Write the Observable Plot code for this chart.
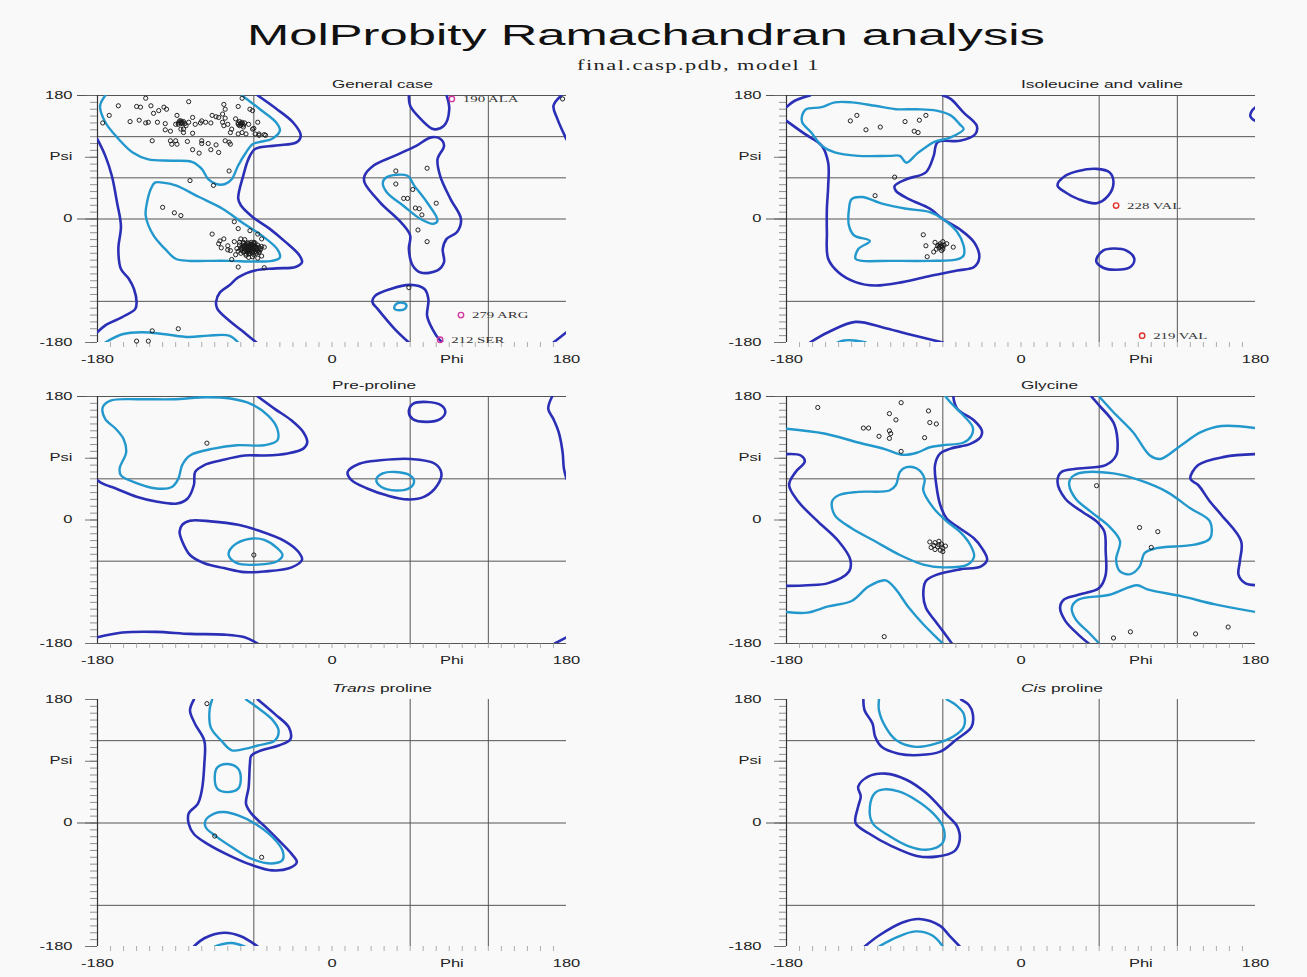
<!DOCTYPE html>
<html><head><meta charset="utf-8">
<script src="https://cdn.jsdelivr.net/npm/d3@7"></script>
<script src="https://cdn.jsdelivr.net/npm/@observablehq/plot@0.6"></script>
<style>
body{margin:0;background:#f9f9f9;}
#root{position:relative;width:1307px;height:977px;overflow:hidden;background:#f9f9f9;font-family:"Liberation Sans",Arial,sans-serif;}
.lab{position:absolute;white-space:nowrap;transform-origin:0 0;color:#151515;}
</style></head><body><div id="root"></div><script>
// ---------- text ----------
const mainTitle = "MolProbity Ramachandran analysis";
const subTitle = "final.casp.pdb, model 1";
const panelTitles = ["General case", "Isoleucine and valine", "Pre-proline", "Glycine", "<i>Trans</i> proline", "<i>Cis</i> proline"];
const yTickValues = [180, 90, 0, -180];
const yTickLabels = ["180", "Psi", "0", "-180"];
const xTickValues = [-180, 0, 92, 180];
const xTickLabels = ["-180", "0", "Phi", "180"];
const vGrid = [-60, 60, 120];
const hGridTop = [180, 120, 60, 0, -120];
const hGridMid = [180, 60, -60, -180];
const hGridBot = [120, 0, -120];

// ---------- General case ----------
const generalDark = [
 [[-57,180],[-43,161],[-30,141],[-24,122],[-27,112],[-43,107],[-59,102],[-64,88],[-68,64],[-72,30],[-70,20],[-61,3],[-48,-14],[-36,-33],[-25,-53],[-23,-63],[-28,-70],[-43,-72],[-59,-75],[-72,-85],[-79,-97],[-86,-107],[-89,-121],[-88,-131],[-79,-148],[-69,-163],[-58,-180]],
 [[-180,116],[-174,92],[-169,63],[-165,24],[-162,-10],[-164,-44],[-162,-73],[-156,-87],[-152,-102],[-150,-121],[-151,-131],[-161,-143],[-174,-155],[-180,-165]],
 [[176,180],[170,165],[173,146],[180,116]],
 [[170,-180],[180,-165]],
 [[59,180],[60,165],[68,146],[78,131],[86,136],[90,160],[88,180]],
 [[59,-180],[48,-160],[35,-131],[31,-121],[33,-112],[45,-102],[60,-96],[71,-102],[74,-117],[73,-141],[77,-160],[83,-177],[85,-180]],
 [[25,63],[32,78],[48,92],[65,107],[76,119],[83,117],[86,107],[81,87],[83,63],[91,29],[99,0],[96,-19],[88,-29],[85,-44],[86,-63],[81,-75],[68,-78],[62,-68],[59,-44],[60,-24],[53,-5],[37,24],[25,53],[25,63]]
];
const generalLight = [
 [[-174,180],[-178,165],[-174,141],[-164,117],[-153,97],[-141,87],[-123,85],[-107,83],[-100,73],[-95,58],[-89,51],[-82,51],[-77,58],[-72,78],[-66,97],[-61,109],[-56,112],[-46,117],[-40,129],[-43,141],[-56,161],[-69,180]],
 [[-136,53],[-139,44],[-142,24],[-143,5],[-137,-24],[-128,-44],[-120,-58],[-110,-61],[-97,-61],[-79,-61],[-59,-62],[-46,-61],[-40,-56],[-42,-44],[-54,-24],[-69,-5],[-84,15],[-102,32],[-120,49],[-130,53],[-136,53]],
 [[-174,-180],[-161,-168],[-146,-165],[-128,-168],[-110,-172],[-95,-170],[-79,-170],[-72,-180]],
 [[39,53],[42,61],[58,63],[63,49],[73,24],[81,-2],[78,-7],[68,0],[55,19],[42,39],[39,53]],
 [[48,-127],[50,-123],[54,-122],[57,-125],[56,-131],[52,-133],[48,-131],[48,-127]]
];
const generalPoints = [
 [-143,176],[-110,171],[-69,176],[-164,165],[-150,164],[-147,163],[-139,165],[-129,163],[-127,160],[-133,158],[-137,154],[-119,151],[-107,148],[-83,167],[-82,160],[-84,153],[-72,164],[-63,160],[-171,151],[-176,140],[-155,142],[-148,144],[-143,140],[-141,141],[-134,141],[-128,139],[-116,143],[-118,138],[-115,141],[-112,136],[-114,131],[-110,141],[-105,138],[-101,140],[-100,143],[-97,141],[-93,140],[-92,151],[-89,149],[-87,148],[-82,147],[-84,141],[-80,138],[-74,146],[-72,138],[-69,141],[-68,134],[-64,138],[-61,131],[-69,126],[-66,124],[-72,124],[-59,124],[-56,122],[-51,122],[-78,126],[-128,130],[-124,128],[-120,114],[-124,114],[-123,109],[-119,109],[-111,113],[-107,125],[-100,114],[-100,110],[-95,110],[-89,108],[-82,114],[-79,112],[-78,109],[-138,114],[-107,101],[-102,96],[-93,101],[-87,97],[-79,70],[-109,56],[-91,49],[-114,126],[-116,131],[-120,138],[-83,136],[-77,131],[-116,141],[-115,139],[-117,143],[-72,140],[-70,137],[-69,139],[-71,142],[-61,158],[-57,141],[-60,132],[-56,124],[-52,123],
 [-116,140],[-114,142],[-118,140],[-113,139],[-70,139],[-68,137],[-71,136],[-67,140],
 [-130,17],[-121,9],[-116,5],
 [-66,-40],[-64,-42],[-62,-39],[-60,-44],[-67,-44],[-63,-37],[-58,-41],[-65,-46],[-61,-47],[-69,-41],[-64,-35],[-57,-38],[-70,-45],[-62,-43],[-66,-37],[-59,-48],[-63,-50],[-68,-48],[-55,-43],[-60,-36],[-65,-43],[-63,-41],[-61,-41],[-67,-39],[-64,-45],[-58,-45],[-62,-34],[-71,-38],[-56,-47],[-66,-51],[-60,-52],[-70,-50],[-73,-43],[-54,-40],[-62,-46],[-65,-39],[-68,-36],[-59,-40],[-64,-48],[-61,-38],
 [-67,-42],[-65,-41],[-63,-44],[-61,-43],[-59,-42],[-64,-40],[-66,-45],[-62,-41],[-60,-39],[-63,-46],[-65,-48],[-67,-47],[-69,-44],[-58,-43],[-57,-46],[-61,-49],[-64,-51],[-68,-39],[-70,-42],[-62,-37],[-65,-35],[-59,-35],[-56,-41],[-72,-47],[-66,-53],[-61,-55],[-58,-50],[-71,-34],[-55,-45],[-67,-30],
 [-75,-4],[-92,-22],[-72,-14],[-83,-29],[-86,-32],[-80,-39],[-63,-17],[-57,-22],[-54,-29],[-52,-41],[-54,-54],[-57,-57],[-64,-56],[-77,-59],[-72,-70],[-78,-46],[-70,-29],[-68,-34],[-60,-34],[-56,-49],[-75,-33],[-80,-45],[-74,-52],[-87,-36],[-85,-42],[-52,-71],
 [-138,-163],[-118,-160],[-150,-178],[-141,-178],
 [49,70],[73,74],[49,51],[62,43],[55,30],[58,30],[64,16],[67,15],[69,6],[80,23],[66,-16],[73,-33],[59,-100],[177,175]
];
const generalOutliers = [[92,175,"190 ALA"],[99,-140,"279 ARG"],[83,-176,"212 SER"]];

// ---------- Isoleucine and valine ----------
const ileDark = [
 [[-60,180],[-54,175],[-44,155],[-34,136],[-35,124],[-47,114],[-64,112],[-67,92],[-73,68],[-88,58],[-97,48],[-96,41],[-86,29],[-70,15],[-60,0],[-47,-15],[-36,-34],[-32,-56],[-36,-70],[-49,-75],[-70,-83],[-91,-92],[-112,-97],[-127,-92],[-140,-78],[-148,-58],[-149,-19],[-149,15],[-148,48],[-148,82],[-153,107],[-166,124],[-180,143]],
 [[-180,163],[-174,172],[-162,180]],
 [[-162,-180],[-148,-165],[-127,-150],[-106,-158],[-86,-168],[-60,-180]],
 [[180,163],[177,157],[176,150],[178,145],[180,143]],
 [[28,49],[34,63],[44,70],[58,73],[68,68],[71,53],[67,34],[58,23],[44,29],[34,39],[28,49]],
 [[58,-58],[63,-46],[71,-43],[81,-46],[87,-58],[84,-70],[73,-74],[63,-71],[58,-63],[58,-58]]
];
const ileLight = [
 [[-168,151],[-165,160],[-153,163],[-143,170],[-130,170],[-112,165],[-96,160],[-80,160],[-65,158],[-54,151],[-47,138],[-44,131],[-54,119],[-67,112],[-75,102],[-80,95],[-88,82],[-93,92],[-101,92],[-125,92],[-143,97],[-153,107],[-161,126],[-168,141],[-168,151]],
 [[-130,29],[-122,32],[-106,22],[-88,15],[-70,10],[-60,0],[-49,-19],[-44,-39],[-44,-53],[-49,-59],[-70,-61],[-101,-61],[-122,-61],[-127,-58],[-125,-44],[-116,-32],[-128,-24],[-132,-10],[-132,15],[-130,29]],
 [[-141,-180],[-136,-177],[-128,-177],[-119,-180]]
];
const ilePoints = [[-131,143],[-126,151],[-119,130],[-108,134],[-89,142],[-78,144],[-73,151],[-82,128],[-79,126],[-97,61],[-112,34],[-75,-23],[-73,-39],[-72,-55],[-66,-34],[-62,-36],[-60,-41],[-65,-44],[-61,-46],[-57,-36],[-52,-41],[-64,-39],[-60,-33],[-67,-48],[-62,-40],[-59,-38],[-63,-42],[-61,-39],[-60,-44],[-63,-38]];
const ileOutliers = [[73,19.5,"228 VAL"],[93,-170,"219 VAL"]];

// ---------- Pre-proline ----------
const preDark = [
 [[-57,180],[-44,162],[-31,145],[-22,128],[-19,113],[-22,104],[-34,97],[-52,94],[-67,94],[-85,87],[-98,80],[-105,70],[-106,51],[-111,31],[-119,24],[-135,27],[-150,34],[-166,46],[-176,53],[-180,58]],
 [[169,180],[166,162],[170,147],[174,128],[177,99],[178,75],[180,60]],
 [[-180,-171],[-161,-164],[-135,-163],[-109,-166],[-83,-167],[-67,-171],[-57,-180]],
 [[171,-180],[180,-171]],
 [[-115,-7],[-109,-1],[-93,-2],[-72,-7],[-57,-15],[-36,-31],[-26,-46],[-23,-58],[-31,-69],[-52,-75],[-67,-76],[-83,-70],[-98,-63],[-109,-51],[-115,-31],[-117,-17],[-115,-7]],
 [[12,70],[21,82],[37,87],[60,89],[79,82],[84,68],[81,51],[71,34],[58,30],[42,36],[27,46],[15,58],[12,70]],
 [[59,157],[62,169],[73,172],[84,167],[87,157],[83,147],[73,143],[62,147],[59,157]]
];
const preLight = [
 [[-176,164],[-170,174],[-148,176],[-122,176],[-96,179],[-78,177],[-62,169],[-49,152],[-42,133],[-42,116],[-52,109],[-73,109],[-91,104],[-109,94],[-115,80],[-118,60],[-123,48],[-135,46],[-153,56],[-162,65],[-163,75],[-158,99],[-160,118],[-166,133],[-174,147],[-176,164]],
 [[-79,-46],[-73,-34],[-61,-27],[-52,-29],[-42,-41],[-38,-51],[-42,-60],[-57,-65],[-73,-63],[-79,-53],[-79,-46]],
 [[34,59],[39,68],[49,70],[60,65],[63,57],[60,47],[49,43],[38,48],[34,59]]
];
const prePoints = [[-96,112],[-60,-51]];

// ---------- Glycine ----------
const glyDark = [
 [[-52,180],[-49,162],[-36,145],[-30,130],[-31,121],[-39,111],[-54,104],[-62,97],[-66,80],[-65,51],[-62,22],[-57,2],[-47,-12],[-36,-27],[-30,-41],[-26,-58],[-31,-68],[-47,-72],[-65,-80],[-73,-89],[-75,-109],[-73,-128],[-66,-147],[-60,-162],[-53,-180]],
 [[-180,96],[-169,94],[-166,85],[-173,70],[-178,51],[-171,27],[-156,-2],[-140,-31],[-131,-58],[-132,-75],[-148,-92],[-164,-95],[-180,-96]],
 [[180,96],[156,92],[136,80],[130,60],[136,51],[145,27],[154,7],[169,-31],[168,-60],[167,-80],[172,-92],[180,-95]],
 [[54,180],[60,167],[71,142],[74,118],[73,94],[65,80],[44,75],[31,70],[28,56],[34,31],[47,12],[58,-2],[64,-17],[65,-46],[65,-80],[60,-99],[44,-109],[33,-116],[30,-128],[34,-147],[44,-167],[52,-180]]
];
const glyLight = [
 [[-180,133],[-151,126],[-125,113],[-104,103],[-91,95],[-80,98],[-70,106],[-60,109],[-44,113],[-38,123],[-37,135],[-44,152],[-53,169],[-58,180]],
 [[-145,27],[-140,36],[-125,41],[-101,43],[-96,51],[-93,70],[-88,77],[-80,75],[-74,60],[-75,43],[-67,17],[-57,-2],[-47,-17],[-39,-36],[-36,-53],[-41,-65],[-60,-69],[-75,-65],[-93,-51],[-112,-31],[-130,-12],[-143,7],[-145,27]],
 [[-180,-134],[-164,-135],[-148,-126],[-130,-118],[-117,-97],[-104,-88],[-97,-99],[-86,-128],[-75,-152],[-65,-171],[-60,-180]],
 [[60,-180],[52,-164],[42,-145],[39,-128],[44,-116],[68,-109],[89,-95],[97,-101],[123,-111],[149,-123],[180,-134]],
 [[60,180],[71,157],[86,128],[99,94],[107,89],[123,109],[138,128],[154,137],[180,134]],
 [[38,60],[44,68],[71,68],[91,58],[112,41],[130,17],[145,-2],[145,-27],[133,-36],[104,-41],[95,-48],[91,-68],[84,-79],[76,-75],[73,-58],[76,-31],[68,-10],[55,10],[42,31],[37,51],[38,60]]
];
const glyPoints = [[-156,164],[-92,171],[-101,155],[-96,146],[-71,159],[-70,142],[-65,140],[-121,134],[-117,134],[-101,130],[-100,126],[-109,122],[-101,119],[-74,120],[-92,100],[58,50],[91,-11],[105,-17],[100,-40],[-105,-170],[71,-172],[84,-163],[134,-166],[159,-156],
 [-70,-32],[-66,-33],[-63,-31],[-61,-35],[-67,-37],[-64,-39],[-60,-41],[-62,-44],[-66,-43],[-58,-38],[-63,-36],[-69,-40],[-60,-46]];

// ---------- Trans proline ----------
const transDark = [
 [[-106,180],[-109,164],[-105,144],[-98,120],[-98,86],[-100,47],[-103,28],[-110,14],[-110,-1],[-106,-16],[-96,-30],[-77,-49],[-62,-61],[-46,-69],[-33,-66],[-27,-57],[-31,-45],[-41,-25],[-51,-6],[-62,14],[-66,28],[-64,52],[-63,86],[-62,98],[-54,106],[-41,113],[-32,122],[-33,139],[-44,159],[-57,180]],
 [[-106,-180],[-98,-168],[-83,-160],[-70,-165],[-57,-180]]
];
const transLight = [
 [[-92,180],[-94,164],[-93,139],[-85,120],[-77,106],[-67,108],[-57,113],[-44,120],[-41,135],[-46,151],[-57,168],[-66,180]],
 [[-90,67],[-88,81],[-80,86],[-72,79],[-70,64],[-72,50],[-80,45],[-88,50],[-90,67]],
 [[-97,4],[-90,14],[-83,16],[-72,11],[-59,-1],[-46,-20],[-38,-40],[-38,-54],[-46,-59],[-62,-52],[-77,-35],[-90,-18],[-97,-6],[-97,4]],
 [[-90,-180],[-85,-177],[-77,-175],[-67,-180]]
];
const transPoints = [[-96,174],[-90,-19],[-54,-50]];

// ---------- Cis proline ----------
const cisDark = [
 [[-121,180],[-120,164],[-114,145],[-112,126],[-107,111],[-94,101],[-78,99],[-62,104],[-50,121],[-38,140],[-37,159],[-40,172],[-46,180]],
 [[-125,53],[-117,68],[-104,72],[-88,63],[-73,44],[-64,27],[-57,12],[-49,-5],[-47,-24],[-51,-41],[-65,-49],[-80,-48],[-99,-34],[-117,-15],[-127,0],[-125,24],[-123,39],[-125,53]],
 [[-120,-180],[-109,-164],[-91,-145],[-78,-140],[-62,-150],[-55,-164],[-47,-180]]
];
const cisLight = [
 [[-109,180],[-109,164],[-104,140],[-96,121],[-81,111],[-65,116],[-52,126],[-44,140],[-44,159],[-50,172],[-57,180]],
 [[-116,24],[-112,44],[-105,49],[-94,46],[-81,34],[-68,15],[-60,-5],[-59,-24],[-63,-34],[-73,-39],[-86,-34],[-101,-19],[-114,0],[-116,24]],
 [[-109,-180],[-96,-167],[-81,-158],[-68,-164],[-60,-180]]
];
const cisPoints = [];

// ---------- layout ----------
const root = document.getElementById("root");
const S = 1.65;                 // horizontal stretch of the lettering
const colLeft = [97, 786];
const colWidth = 469;
const rowTop = [95, 396, 699];
const rowHeight = 247;
const titleCenter = [84, 385.5, 688.7];
const ML = 70, MR = 20, MT = 20, MB = 30;
const kx = colWidth / 360, ky = rowHeight / 360;
const DARK = "#2a2fb6", LIGHT = "#2398cc";

function addLabel(html, left, top, width, css) {
  const d = document.createElement("div");
  d.className = "lab";
  d.innerHTML = html;
  Object.assign(d.style, css);
  d.style.left = left + "px";
  d.style.top = top + "px";
  root.appendChild(d);
  const w = d.getBoundingClientRect().width;
  d.style.transform = `scaleX(${width / w})`;
}

function stretchTexts(svg) {
  svg.querySelectorAll("text").forEach(t => {
    const tr = t.getAttribute("transform") || "";
    const xa = t.getAttribute("x");
    const X = xa && /^-?[0-9.]+$/.test(xa) ? +xa : 0;
    t.setAttribute("transform", `${tr} translate(${X},0) scale(${S},1) translate(${-X},0)`);
  });
}

function contourMarks(paths, color, w) {
  return paths.map(p => {
    const a = p[0], b = p[p.length - 1];
    const closed = p.length > 3 && a[0] === b[0] && a[1] === b[1];
    const data = closed ? p.slice(0, -1) : p;
    return Plot.line(data, {x: d => d[0], y: d => d[1], stroke: color, strokeWidth: w,
      curve: closed ? "catmull-rom-closed" : "catmull-rom", clip: true, strokeLinejoin: "round", strokeLinecap: "round"});
  });
}

const panels = [
  {col: 0, row: 0, tw: 101, dark: generalDark, light: generalLight, pts: generalPoints, out: generalOutliers, oc: "#d2389e", h: hGridTop},
  {col: 1, row: 0, tw: 162, dark: ileDark, light: ileLight, pts: ilePoints, out: ileOutliers, oc: "#e0302c", h: hGridTop},
  {col: 0, row: 1, tw: 84, dark: preDark, light: preLight, pts: prePoints, out: [], oc: "#d2389e", h: hGridMid},
  {col: 1, row: 1, tw: 57, dark: glyDark, light: glyLight, pts: glyPoints, out: [], oc: "#d2389e", h: hGridMid},
  {col: 0, row: 2, tw: 100, dark: transDark, light: transLight, pts: transPoints, out: [], oc: "#d2389e", h: hGridBot},
  {col: 1, row: 2, tw: 82, dark: cisDark, light: cisLight, pts: cisPoints, out: [], oc: "#d2389e", h: hGridBot}
];

panels.forEach((p, i) => {
  const W = ML + colWidth + MR, H = MT + rowHeight + MB;
  const ext = p.h.filter(v => v === 180 || v === 0);
  const marks = [
    Plot.ruleY(p.h, {x1: -180, x2: 180, stroke: "#555", strokeWidth: 1}),
    Plot.ruleY(ext, {x1: -180 - 20 / kx, x2: -180, stroke: "#555", strokeWidth: 1}),
    Plot.ruleX(vGrid, {y1: -180, y2: 180, stroke: "#555", strokeWidth: 1}),
    Plot.ruleY(d3.range(-180, 181, 10), {x1: -180 - 7 / kx, x2: -180, stroke: "#777", strokeWidth: 0.8}),
    Plot.ruleY(yTickValues, {x1: -180 - 12 / kx, x2: -180, stroke: "#666", strokeWidth: 0.9}),
    Plot.ruleX(d3.range(-170, 180, 10), {y1: -180, y2: -180 - 5 / ky, stroke: "#9a9a9a", strokeWidth: 0.8}),
    Plot.ruleX([-180], {y1: -180, y2: 180, stroke: "#333", strokeWidth: 1.2}),
    ...contourMarks(p.dark, DARK, 2.6),
    ...contourMarks(p.light, LIGHT, 2.4),
    Plot.dot(p.pts, {x: d => d[0], y: d => d[1], r: 2.1, stroke: "#1a1a1a", strokeWidth: 0.95, fill: "none"}),
    Plot.dot(p.out, {x: d => d[0], y: d => d[1], r: 2.7, stroke: p.oc, strokeWidth: 1.4, fill: "none"}),
    Plot.text(p.out, {x: d => d[0], y: d => d[1], text: d => d[2], dx: 11, textAnchor: "start",
      fontFamily: "Liberation Serif, Times New Roman, serif", fontSize: 9, fill: "#333"}),
    Plot.text(yTickValues, {x: -180, y: d => d, text: (d, j) => yTickLabels[j], textAnchor: "end", dx: -25, fontSize: 10, fill: "#222"}),
    Plot.text(xTickValues, {x: d => d, y: -180, text: (d, j) => xTickLabels[j], dy: 17, textAnchor: "middle", fontSize: 10, fill: "#222"})
  ];
  const svg = Plot.plot({
    width: W, height: H, marginLeft: ML, marginRight: MR, marginTop: MT, marginBottom: MB,
    x: {domain: [-180, 180], axis: null},
    y: {domain: [-180, 180], axis: null},
    style: {background: "transparent", overflow: "visible", fontFamily: "Liberation Sans, Arial, sans-serif", fontSize: "10px"},
    marks
  });
  svg.style.position = "absolute";
  svg.style.left = (colLeft[p.col] - ML) + "px";
  svg.style.top = (rowTop[p.row] - MT) + "px";
  svg.style.maxWidth = "none";
  root.appendChild(svg);
  stretchTexts(svg);
  addLabel(panelTitles[i], colLeft[p.col] + colWidth / 2, titleCenter[p.row] - 5.5, p.tw,
    {fontSize: "10px", lineHeight: "11px", color: "#222"});
});

addLabel(mainTitle, 247, 20, 798, {fontSize: "30px", lineHeight: "30px", color: "#111"});
addLabel(subTitle, 577, 58, 243, {fontFamily: "Liberation Serif, Times New Roman, serif", fontSize: "15px", lineHeight: "15px", letterSpacing: "1px", color: "#222"});
</script></body></html>
